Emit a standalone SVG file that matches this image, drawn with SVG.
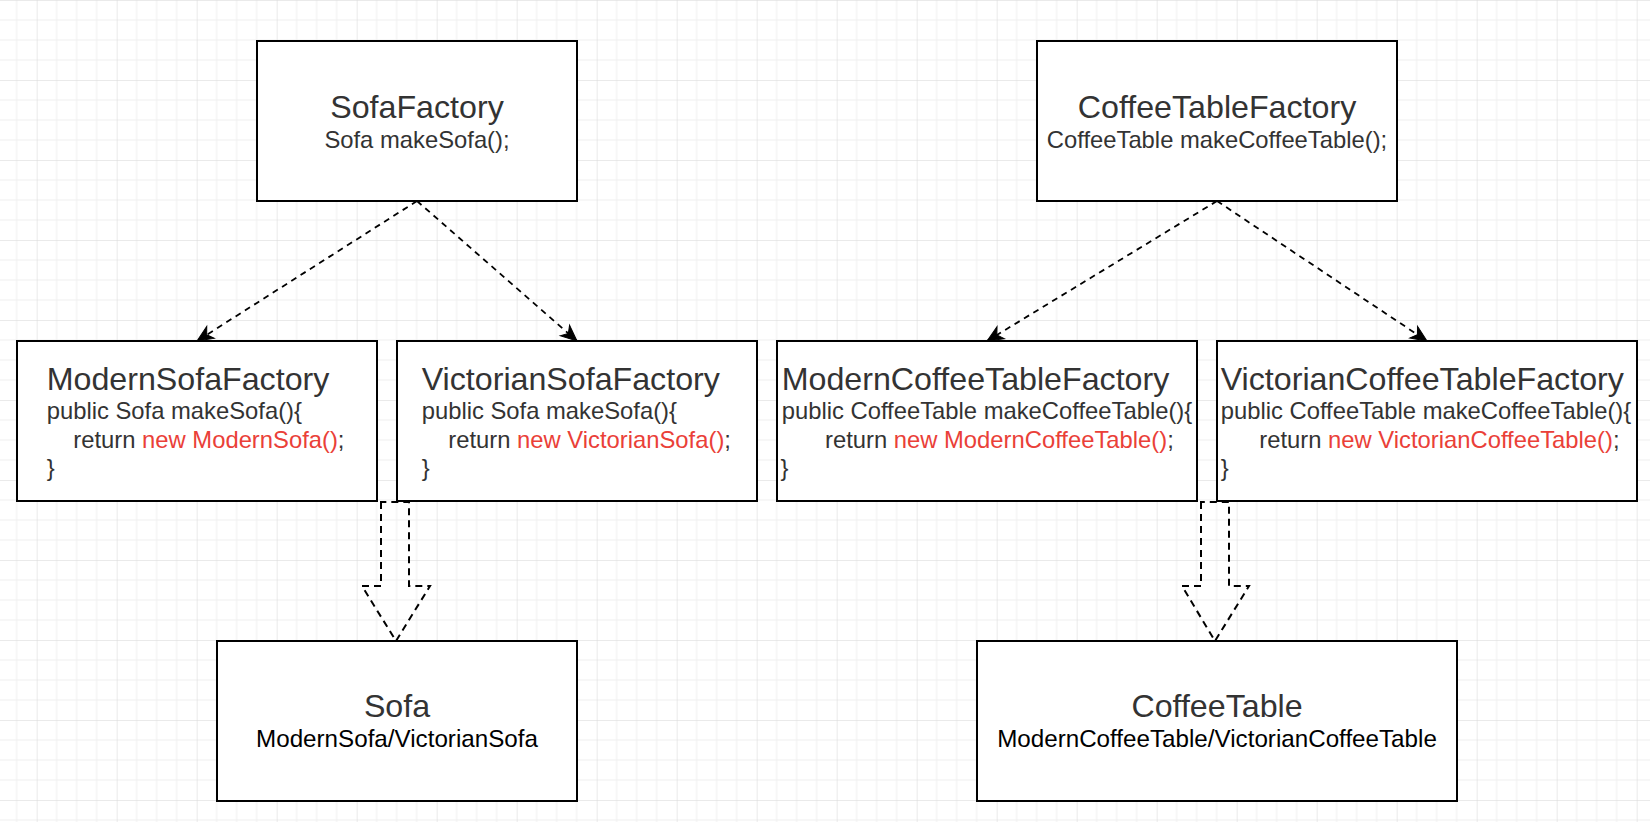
<svg xmlns="http://www.w3.org/2000/svg" width="1650" height="822" viewBox="0 0 1650 822">
<style>
.box{fill:#ffffff;stroke:#000000;stroke-width:2}
.t{font-family:"Liberation Sans",Arial,Helvetica,sans-serif;fill:#333333}
.title{font-size:32.2px}
.body{font-size:23.8px}
.sub{font-size:24.2px}
.red{fill:#ea4038}
.blk{fill:#000000}
.dash{fill:none;stroke:#000000;stroke-width:1.8;stroke-dasharray:6 5}
.block{fill:none;stroke:#000000;stroke-width:2;stroke-dasharray:7 5}
</style>
<defs>
<pattern id="grid" patternUnits="userSpaceOnUse" x="36.67" y="0" width="80" height="80">
<path d="M20 0V80M40 0V80M60 0V80M0 20H80M0 40H80M0 60H80" stroke="#efefef" stroke-width="1" fill="none"/>
<path d="M0 0V80M0 0H80" stroke="#d6d6d6" stroke-width="1" fill="none"/>
</pattern>
<marker id="arr" markerUnits="userSpaceOnUse" markerWidth="20" markerHeight="16" refX="16" refY="7" orient="auto" overflow="visible">
<path d="M16 7 L0 0 L4.5 7 L0 14 Z" fill="#000000" stroke="#000000" stroke-width="1"/>
</marker>
</defs>
<rect x="0" y="0" width="1650" height="822" fill="#ffffff"/>
<rect x="0" y="0" width="1650" height="822" fill="url(#grid)"/>

<g id="connectors">
<path class="dash" d="M417 201 L197 341" marker-end="url(#arr)"/>
<path class="dash" d="M417 201 L577 341" marker-end="url(#arr)"/>
<path class="dash" d="M1217 201 L987 341" marker-end="url(#arr)"/>
<path class="dash" d="M1217 201 L1427 341" marker-end="url(#arr)"/>
<path class="block" d="M381 502 L381 586 L362 586 L396 641 L430 586 L409 586 L409 502 Z"/>
<path class="block" d="M1201 502 L1201 586 L1182 586 L1215 641 L1249 586 L1229 586 L1229 502 Z"/>
</g>

<g id="SofaFactory">
<rect class="box" x="257" y="41" width="320" height="160"/>
<text class="t title" x="417" y="118" text-anchor="middle">SofaFactory</text>
<text class="t body" x="417" y="148" text-anchor="middle">Sofa makeSofa();</text>
</g>

<g id="CoffeeTableFactory">
<rect class="box" x="1037" y="41" width="360" height="160"/>
<text class="t title" x="1217" y="118" text-anchor="middle">CoffeeTableFactory</text>
<text class="t body" x="1217" y="148" text-anchor="middle">CoffeeTable makeCoffeeTable();</text>
</g>

<g id="ModernSofaFactory">
<rect class="box" x="17" y="341" width="360" height="160"/>
<text class="t title" x="46.7" y="390">ModernSofaFactory</text>
<text class="t body" x="46.7" y="419">public Sofa makeSofa(){</text>
<text class="t body" x="73.3" y="448">return <tspan class="red">new ModernSofa()</tspan>;</text>
<text class="t body" x="46.7" y="476">}</text>
</g>

<g id="VictorianSofaFactory">
<rect class="box" x="397" y="341" width="360" height="160"/>
<text class="t title" x="421.7" y="390">VictorianSofaFactory</text>
<text class="t body" x="421.7" y="419">public Sofa makeSofa(){</text>
<text class="t body" x="448.3" y="448">return <tspan class="red">new VictorianSofa()</tspan>;</text>
<text class="t body" x="421.7" y="476">}</text>
</g>

<g id="ModernCoffeeTableFactory">
<rect class="box" x="777" y="341" width="420" height="160"/>
<text class="t title" x="781.7" y="390">ModernCoffeeTableFactory</text>
<text class="t body" x="781.7" y="419">public CoffeeTable makeCoffeeTable(){</text>
<text class="t body" x="825" y="448">return <tspan class="red">new ModernCoffeeTable()</tspan>;</text>
<text class="t body" x="780.5" y="476">}</text>
</g>

<g id="VictorianCoffeeTableFactory">
<rect class="box" x="1217" y="341" width="420" height="160"/>
<text class="t title" x="1220.7" y="390">VictorianCoffeeTableFactory</text>
<text class="t body" x="1220.7" y="419">public CoffeeTable makeCoffeeTable(){</text>
<text class="t body" x="1259.3" y="448">return <tspan class="red">new VictorianCoffeeTable()</tspan>;</text>
<text class="t body" x="1220.7" y="476">}</text>
</g>

<g id="Sofa">
<rect class="box" x="217" y="641" width="360" height="160"/>
<text class="t title" x="397" y="717" text-anchor="middle">Sofa</text>
<text class="t sub blk" x="397" y="747" text-anchor="middle">ModernSofa/VictorianSofa</text>
</g>

<g id="CoffeeTable">
<rect class="box" x="977" y="641" width="480" height="160"/>
<text class="t title" x="1217" y="717" text-anchor="middle">CoffeeTable</text>
<text class="t sub blk" x="1217" y="747" text-anchor="middle">ModernCoffeeTable/VictorianCoffeeTable</text>
</g>
</svg>
